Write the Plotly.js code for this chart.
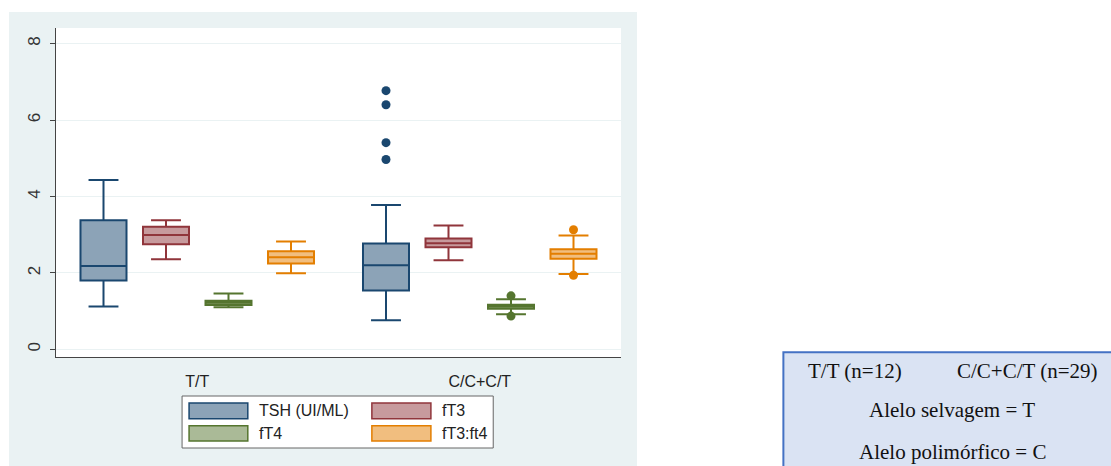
<!DOCTYPE html>
<html>
<head>
<meta charset="utf-8">
<script src="https://cdn.plot.ly/plotly-3.0.1.min.js"></script>
<style>
html,body{margin:0;padding:0;background:#ffffff;}
#chart{width:1111px;height:466px;}
</style>
</head>
<body>
<div id="chart"></div>
<script>
// ---- data ----
const groups = ['T/T', 'C/C+C/T'];
const groupN = [12, 29];
const seriesNames = ['TSH (UI/ML)', 'fT3', 'fT4', 'fT3:ft4'];

const tshLow  = [1.12, 0.76];
const tshQ1   = [1.80, 1.54];
const tshMed  = [2.18, 2.20];
const tshQ3   = [3.38, 2.77];
const tshHigh = [4.43, 3.78];
const tshOut  = [[], [6.77, 6.40, 5.41, 4.97]];

const ft3Low  = [2.36, 2.33];
const ft3Q1   = [2.75, 2.67];
const ft3Med  = [2.99, 2.78];
const ft3Q3   = [3.21, 2.90];
const ft3High = [3.38, 3.24];
const ft3Out  = [[], []];

const ft4Low  = [1.10, 0.92];
const ft4Q1   = [1.16, 1.06];
const ft4Med  = [1.22, 1.12];
const ft4Q3   = [1.27, 1.17];
const ft4High = [1.46, 1.31];
const ft4Out  = [[], [1.40, 0.87]];

const ratioLow  = [1.99, 1.97];
const ratioQ1   = [2.25, 2.37];
const ratioMed  = [2.41, 2.50];
const ratioQ3   = [2.57, 2.62];
const ratioHigh = [2.82, 2.98];
const ratioOut  = [[], [3.13, 1.94]];

const yTicks = [0, 2, 4, 6, 8];
const infoLine2 = 'Alelo selvagem = T';
const infoLine3 = 'Alelo polimórfico = C';

// ---- styling ----
const lineColors = ['#1A476F', '#90353B', '#55752F', '#E37E00'];
const fillColors = ['#8CA3B7', '#C79A9D', '#AABA97', '#F1BE7F'];

const W = 1111, Hh = 466;
const L = 56, R = 620.7, T = 28, B = 357;
const PW = R - L, PH = B - T;
const fx = x => (x - L) / PW;
const fy = y => 1 - (y - T) / PH;
const GAP = 0.115;

const stats = [
  [tshLow, tshQ1, tshMed, tshQ3, tshHigh, tshOut],
  [ft3Low, ft3Q1, ft3Med, ft3Q3, ft3High, ft3Out],
  [ft4Low, ft4Q1, ft4Med, ft4Q3, ft4High, ft4Out],
  [ratioLow, ratioQ1, ratioMed, ratioQ3, ratioHigh, ratioOut]
];

const traces = [];
stats.forEach((s, k) => {
  traces.push({
    type: 'box',
    orientation: 'v',
    name: seriesNames[k],
    x: groups,
    lowerfence: s[0],
    q1: s[1],
    median: s[2],
    q3: s[3],
    upperfence: s[4],
    boxpoints: false,
    offsetgroup: 'g' + k,
    whiskerwidth: 0.65,
    fillcolor: fillColors[k],
    line: {color: lineColors[k], width: 2},
    showlegend: false,
    hoverinfo: 'none'
  });
});
// outside values, grouped the same way as the boxes
stats.forEach((s, k) => {
  const xs = [], ys = [];
  s[5].forEach((arr, i) => {
    if (arr.length === 0) { xs.push(groups[i]); ys.push(null); }
    arr.forEach(v => { xs.push(groups[i]); ys.push(v); });
  });
  traces.push({
    type: 'scatter',
    mode: 'markers',
    name: seriesNames[k],
    x: xs, y: ys,
    offsetgroup: 'g' + k,
    marker: {color: lineColors[k], size: 9},
    showlegend: false,
    hoverinfo: 'none',
    cliponaxis: false
  });
});

const shapes = [];
const annotations = [];
shapes.push({type:'rect', xref:'paper', yref:'paper', layer:'below',
  x0: fx(9), x1: fx(636.7), y0: fy(12), y1: fy(470),
  fillcolor:'#EAF2F3', line:{width:0}});
shapes.push({type:'rect', xref:'paper', yref:'paper', layer:'below',
  x0: 0, x1: 1, y0: 0, y1: 1, fillcolor:'#ffffff', line:{width:0}});

shapes.push({type:'rect', xref:'paper', yref:'paper',
  x0: fx(182), x1: fx(493), y0: fy(448), y1: fy(396),
  fillcolor:'#ffffff', line:{color:'#666666', width:1}});
const legCols = [[189, 247.7, 257], [371.7, 430.7, 440]];
const legRows = [[403, 418.7], [425.7, 441]];
seriesNames.forEach((nm, k) => {
  const c = legCols[k % 2], r = legRows[Math.floor(k / 2)];
  shapes.push({type:'rect', xref:'paper', yref:'paper',
    x0: fx(c[0]), x1: fx(c[1]), y0: fy(r[1]), y1: fy(r[0]),
    fillcolor: fillColors[k], line:{color: lineColors[k], width: 1.5}});
  annotations.push({xref:'paper', yref:'paper', x: fx(c[2]), y: fy((r[0] + r[1]) / 2),
    xanchor:'left', yanchor:'middle', showarrow:false, text: nm,
    font:{family:'Liberation Sans, Arial, sans-serif', size:16, color:'#222222'}});
});

shapes.push({type:'rect', xref:'paper', yref:'paper',
  x0: fx(783), x1: fx(1120), y0: fy(475), y1: fy(352.3),
  fillcolor:'#DAE3F3', line:{color:'#4472C4', width:2}});
const serif = {family:'Liberation Serif, Times New Roman, serif', size:21, color:'#111111'};
annotations.push({xref:'paper', yref:'paper', x: fx(855), y: fy(371), xanchor:'center', yanchor:'middle',
  showarrow:false, text: groups[0] + ' (n=' + groupN[0] + ')', font: serif});
annotations.push({xref:'paper', yref:'paper', x: fx(1026.5), y: fy(371), xanchor:'center', yanchor:'middle',
  showarrow:false, text: groups[1] + ' (n=' + groupN[1] + ')', font: serif});
annotations.push({xref:'paper', yref:'paper', x: fx(952), y: fy(410), xanchor:'center', yanchor:'middle',
  showarrow:false, text: infoLine2, font: serif});
annotations.push({xref:'paper', yref:'paper', x: fx(952), y: fy(451.5), xanchor:'center', yanchor:'middle',
  showarrow:false, text: infoLine3, font: serif});

const layout = {
  width: W, height: Hh,
  margin: {l: L, r: W - R, t: T, b: Hh - B, pad: 0},
  paper_bgcolor: '#ffffff',
  plot_bgcolor: 'rgba(0,0,0,0)',
  boxmode: 'group',
  boxgap: GAP,
  boxgroupgap: 0.264,
  scattermode: 'group',
  scattergap: GAP,
  showlegend: false,
  font: {family: 'Liberation Sans, Arial, sans-serif', size: 15, color: '#222222'},
  xaxis: {
    type: 'category',
    categoryarray: groups,
    categoryorder: 'array',
    range: [-0.5, 1.5],
    showline: true, linecolor: '#444444', linewidth: 1,
    ticks: '', showgrid: false, zeroline: false,
    ticklabelstandoff: 10,
    tickfont: {size: 16, color: '#222222'},
    fixedrange: true
  },
  yaxis: {
    range: [-0.2, 8.41],
    tickvals: yTicks,
    ticktext: yTicks.map(String),
    tickangle: -90,
    ticks: 'outside', ticklen: 5, tickcolor: '#444444', tickwidth: 1,
    showline: true, linecolor: '#444444', linewidth: 1,
    showgrid: true, gridcolor: '#EAF2F3', gridwidth: 1,
    zeroline: false,
    ticklabelstandoff: 3,
    tickfont: {size: 17, color: '#333333'},
    fixedrange: true
  },
  shapes: shapes,
  annotations: annotations
};

Plotly.newPlot('chart', traces, layout, {staticPlot: true, displayModeBar: false});
</script>
</body>
</html>
